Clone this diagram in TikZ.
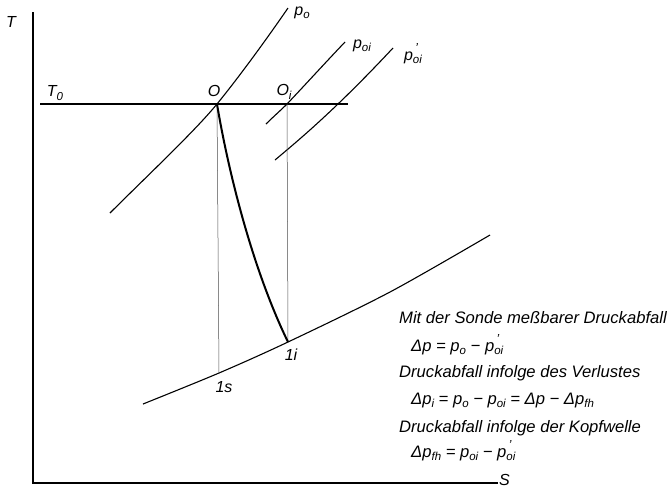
\documentclass[tikz,border=0pt]{standalone}
\usepackage{fontspec}
\setmainfont{Liberation Sans}
\newcommand\lowidx[1]{\raisebox{-0.4ex}{\fontsize{11.5}{12}\selectfont #1}}
\newcommand\primed[1]{\rlap{\raisebox{0.9ex}{\fontsize{13}{13}\selectfont\,’}}\lowidx{#1}}
\begin{document}
\begin{tikzpicture}[x=1pt,y=-1pt,
  curve/.style={line width=1.1pt},
  thickcurve/.style={line width=2pt},
  axis/.style={line width=1.1pt},
  drop/.style={line width=0.5pt, black!70},
  lbl/.style={font=\fontsize{16}{18}\selectfont\itshape, inner sep=0pt},
  txt/.style={font=\fontsize{16.6}{19}\selectfont\itshape, inner sep=0pt, anchor=base west}]
\useasboundingbox (0,0) rectangle (668,491);
% axes
\coordinate (top) at (33,12);
\coordinate (orig) at (33,483);
\coordinate (right) at (498,483);
\draw[axis] (top) -- (orig) -- (right);
\node[lbl] (T) at (11,22) {T};
\node[lbl, anchor=west] (S) at (499,480) {S};
% points
\coordinate (O) at (217,104);
\coordinate (Oi) at (287,104);
\coordinate (s1) at (219,373);
\coordinate (i1) at (288,342);
% T0 line
\coordinate (t0a) at (40,104);
\coordinate (t0b) at (348,104);
\draw[curve] (t0a) -- (t0b);
\node[lbl] (T0) at (55,93) {T\lowidx{0}};
\node[lbl] (Olbl) at (214,91) {O};
\node[lbl] (Oilbl) at (284,92) {O\lowidx{i}};
% isobars
\coordinate (p0a) at (110,213);
\coordinate (p0b) at (288,8);
\draw[curve] (p0a) .. controls (145,178) and (195,131) .. (O)
             .. controls (239,77) and (266,40) .. (p0b);
\node[lbl] (p0) at (302,13) {p\lowidx{o}};
\coordinate (poia) at (266,124);
\coordinate (poib) at (345,42);
\draw[curve] (poia) .. controls (273,117) and (280,111) .. (Oi)
             .. controls (305,85) and (325,63) .. (poib);
\node[lbl] (poi) at (362,46) {p\lowidx{oi}};
\coordinate (ppa) at (275,160);
\coordinate (ppb) at (393,48);
\draw[curve] (ppa) .. controls (300,139) and (335,110) .. (ppb);
\node[lbl] (ppoi) at (413,54) {p\primed{oi}};
\coordinate (p1a) at (143,404);
\coordinate (p1b) at (490,235);
\draw[curve] plot[smooth] coordinates {(143,404) (219,373) (288,342) (390,292) (490,235)};
% drops
\draw[drop] (O) -- (s1);
\draw[drop] (Oi) -- (i1);
% real expansion
\draw[thickcurve] (O) .. controls (228,170) and (252,268) .. (i1);
\node[lbl] (s1lbl) at (224,387) {1s};
\node[lbl] (i1lbl) at (291,355) {1i};
% text block
\node[txt] (l1) at (399,323) {Mit der Sonde meßbarer Druckabfall};
\node[txt] (l2) at (411,351) {Δp = p\lowidx{o} − p\primed{oi}};
\node[txt] (l3) at (399,377) {Druckabfall infolge des Verlustes};
\node[txt] (l4) at (411,404) {Δp\lowidx{i} = p\lowidx{o} − p\lowidx{oi} = Δp − Δp\lowidx{fh}};
\node[txt] (l5) at (399,432) {Druckabfall infolge der Kopfwelle};
\node[txt] (l6) at (411,457) {Δp\lowidx{fh} = p\lowidx{oi} − p\primed{oi}};
\end{tikzpicture}
\end{document}
